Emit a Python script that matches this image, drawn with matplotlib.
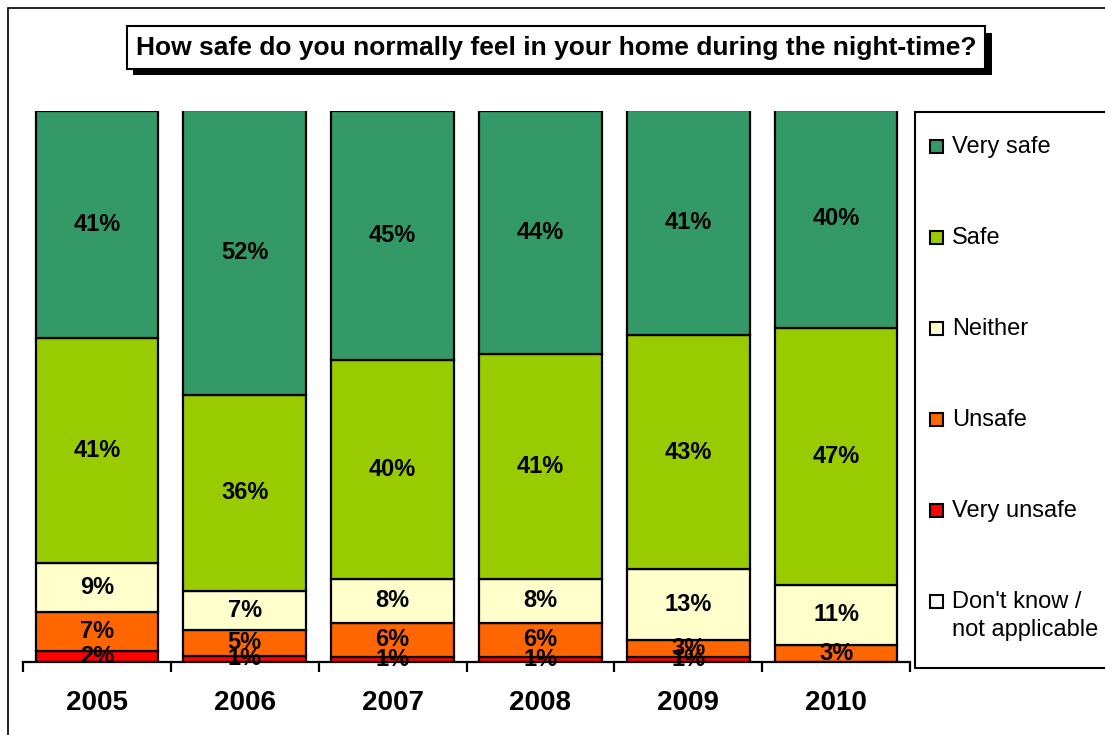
import matplotlib
matplotlib.use('Agg')
import matplotlib.pyplot as plt
import matplotlib.patheffects as pe
from matplotlib.patches import Rectangle
import numpy as np

plt.rcParams['font.family'] = ['Liberation Sans', 'DejaVu Sans']

years = ['2005', '2006', '2007', '2008', '2009', '2010']
series = ['Very safe', 'Safe', 'Neither', 'Unsafe', 'Very unsafe', "Don't know /\nnot applicable"]
very_safe = [41.2, 51.6, 45.2, 44.1, 40.7, 39.6]
safe = [40.8, 35.6, 39.7, 40.8, 42.6, 46.6]
neither = [8.9, 7.1, 8.0, 8.0, 12.8, 10.9]
unsafe = [7.1, 4.7, 6.2, 6.2, 3.1, 3.1]
very_unsafe = [2.0, 1.1, 0.9, 0.9, 0.9, 0.0]
dont_know = [0, 0, 0, 0, 0, 0]
colors = ['#339966', '#99CC00', '#FFFFCC', '#FF6600', '#FF0000', '#FFFFFF']

W, H = 1105, 735
fig = plt.figure(figsize=(W / 100, H / 100), dpi=100)
ax = fig.add_axes([23 / W, 1 - 662 / H, (910 - 23) / W, (662 - 111) / H])

x = np.arange(len(years))
# stack from the bottom: don't know, very unsafe, unsafe, neither, safe, very safe
stack = [dont_know, very_unsafe, unsafe, neither, safe, very_safe]
stack_colors = colors[::-1]
bottom = np.zeros(len(years))
for vals, col in zip(stack, stack_colors):
    vals = np.array(vals, dtype=float)
    ax.bar(x, vals, width=0.83, bottom=bottom, color=col, edgecolor='black', linewidth=1.6, zorder=2)
    for xi, v, b in zip(x, vals, bottom):
        if v >= 0.5:
            ax.text(xi, b + v / 2, f'{v:.0f}%', ha='center', va='center',
                    fontsize=17, fontweight='bold', zorder=3)
    bottom += vals

ax.set_xlim(-0.5, 5.5)
ax.set_ylim(0, 100)
for s in ['top', 'left', 'right']:
    ax.spines[s].set_visible(False)
ax.spines['bottom'].set_linewidth(1.6)
ax.set_yticks([])
ax.set_xticks(x)
ax.set_xticklabels(years, fontsize=20, fontweight='bold')
ax.set_xticks(np.arange(-0.5, 6, 1), minor=True)
ax.tick_params(axis='x', which='major', length=0, pad=20)
ax.tick_params(axis='x', which='minor', length=7, width=1.6, direction='out')

# outer border (cropped at right/bottom)
fig.add_artist(Rectangle((8 / W, -0.1), 1.2, 1 - 8 / H + 0.1, transform=fig.transFigure,
                         fill=False, edgecolor='black', linewidth=1.2))

# title with shadowed box
t = fig.text(556 / W, 1 - 47.5 / H, 'How safe do you normally feel in your home during the night-time?',
             ha='center', va='center', fontsize=19, fontweight='bold',
             bbox=dict(boxstyle='square,pad=0.35', facecolor='white', edgecolor='black', linewidth=1.5))
t.get_bbox_patch().set_path_effects([
    pe.SimplePatchShadow(offset=(4.5, -4.5), shadow_rgbFace='black', alpha=1), pe.Normal()])

# legend box (extends beyond right edge)
fig.add_artist(Rectangle((915 / W, 1 - 668 / H), 0.3, (668 - 112) / H, transform=fig.transFigure,
                         facecolor='white', edgecolor='black', linewidth=1.5))
for i, (name, col) in enumerate(zip(series, colors)):
    yc = 146 + 91 * i
    fig.add_artist(Rectangle((930 / W, 1 - (yc + 7) / H), 13 / W, 13 / H, transform=fig.transFigure,
                             facecolor=col, edgecolor='black', linewidth=1.5))
    fig.text(952 / W, 1 - (yc - 10) / H, name, ha='left', va='top', fontsize=17, linespacing=1.33)

plt.savefig('out.png', dpi=100)
